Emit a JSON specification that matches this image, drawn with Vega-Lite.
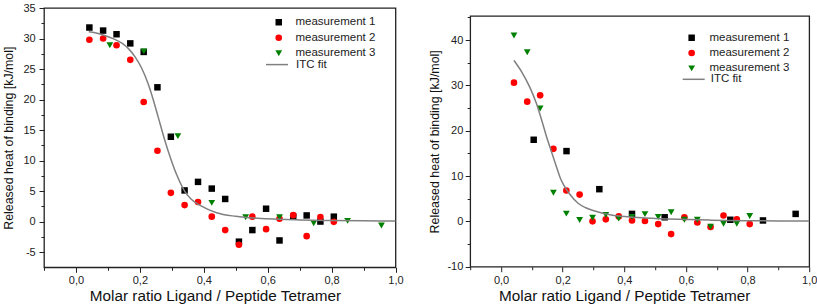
{
  "$schema": "https://vega.github.io/schema/vega-lite/v6.json",
  "padding": {"left": 2, "top": 1, "right": 0, "bottom": 0},
  "spacing": 23.2,
  "background": "white",
  "config": {
    "font": "Liberation Sans",
    "view": {"stroke": "#222", "strokeWidth": 1.3},
    "axis": {"grid": false, "domain": false, "labelFontSize": 11, "labelColor": "#222", "tickColor": "#222", "tickWidth": 1, "titleFontWeight": "normal", "titleColor": "#111", "labelOverlap": false, "labelFlush": false},
    "legend": {"labelFont": "Liberation Sans"}
  },
  "resolve": {
    "scale": {"color": "independent", "shape": "independent", "stroke": "independent", "size": "independent"},
    "legend": {"color": "independent", "shape": "independent", "stroke": "independent"}
  },
  "hconcat": [
    {
      "width": 351.5,
      "height": 259.3,
      "resolve": {"axis": {"x": "independent", "y": "independent"}},
      "layer": [
        {
          "data": {"values": [
            {"series": "measurement 1", "x": 0.042, "y": 31.8},
            {"series": "measurement 1", "x": 0.085, "y": 31.3},
            {"series": "measurement 1", "x": 0.127, "y": 30.7},
            {"series": "measurement 1", "x": 0.17, "y": 29.2},
            {"series": "measurement 1", "x": 0.212, "y": 27.8},
            {"series": "measurement 1", "x": 0.255, "y": 22.0},
            {"series": "measurement 1", "x": 0.297, "y": 13.9},
            {"series": "measurement 1", "x": 0.34, "y": 5.1},
            {"series": "measurement 1", "x": 0.382, "y": 6.5},
            {"series": "measurement 1", "x": 0.425, "y": 5.4},
            {"series": "measurement 1", "x": 0.467, "y": 3.7},
            {"series": "measurement 1", "x": 0.51, "y": -3.3},
            {"series": "measurement 1", "x": 0.552, "y": -1.4},
            {"series": "measurement 1", "x": 0.595, "y": 2.1},
            {"series": "measurement 1", "x": 0.637, "y": -3.1},
            {"series": "measurement 1", "x": 0.68, "y": 0.8},
            {"series": "measurement 1", "x": 0.722, "y": 1.0},
            {"series": "measurement 1", "x": 0.765, "y": 0.0},
            {"series": "measurement 1", "x": 0.807, "y": 0.8},
            {"series": "measurement 2", "x": 0.042, "y": 29.8},
            {"series": "measurement 2", "x": 0.085, "y": 30.0},
            {"series": "measurement 2", "x": 0.127, "y": 28.9},
            {"series": "measurement 2", "x": 0.17, "y": 26.5},
            {"series": "measurement 2", "x": 0.212, "y": 19.6},
            {"series": "measurement 2", "x": 0.255, "y": 11.6},
            {"series": "measurement 2", "x": 0.297, "y": 4.7},
            {"series": "measurement 2", "x": 0.34, "y": 2.7},
            {"series": "measurement 2", "x": 0.382, "y": 3.2},
            {"series": "measurement 2", "x": 0.425, "y": 0.8},
            {"series": "measurement 2", "x": 0.467, "y": -1.4},
            {"series": "measurement 2", "x": 0.51, "y": -3.8},
            {"series": "measurement 2", "x": 0.552, "y": 0.8},
            {"series": "measurement 2", "x": 0.595, "y": -1.25},
            {"series": "measurement 2", "x": 0.637, "y": 0.45},
            {"series": "measurement 2", "x": 0.68, "y": 1.05},
            {"series": "measurement 2", "x": 0.722, "y": -2.4},
            {"series": "measurement 2", "x": 0.765, "y": 0.75},
            {"series": "measurement 2", "x": 0.807, "y": -0.05},
            {"series": "measurement 3", "x": 0.106, "y": 28.9},
            {"series": "measurement 3", "x": 0.2125, "y": 27.9},
            {"series": "measurement 3", "x": 0.319, "y": 14.0},
            {"series": "measurement 3", "x": 0.425, "y": 3.05},
            {"series": "measurement 3", "x": 0.531, "y": 0.7},
            {"series": "measurement 3", "x": 0.637, "y": 0.7},
            {"series": "measurement 3", "x": 0.744, "y": -0.27},
            {"series": "measurement 3", "x": 0.85, "y": 0.1},
            {"series": "measurement 3", "x": 0.956, "y": -0.65}
          ]},
          "mark": {"type": "point", "filled": true, "opacity": 1},
          "encoding": {
            "x": {"field": "x", "type": "quantitative", "scale": {"domain": [-0.1, 1.0], "nice": false, "zero": false},
              "axis": {"values": [0, 0.2, 0.4, 0.6, 0.8, 1.0], "labelExpr": "replace(format(datum.value,'.1f'),'.',',')", "title": "Molar ratio Ligand / Peptide Tetramer", "titleFontSize": 15.3, "titleX": 171, "titlePadding": 3, "tickSize": 5, "labelPadding": 2.5}},
            "y": {"field": "y", "type": "quantitative", "scale": {"domain": [-7.5, 35], "nice": false, "zero": false},
              "axis": {"values": [-5, 0, 5, 10, 15, 20, 25, 30, 35], "labelExpr": "'' + datum.value", "title": "Released heat of binding [kJ/mol]", "titleFontSize": 12.4, "titlePadding": 7, "tickSize": 5, "labelPadding": 3.8}},
            "size": {"field": "series", "type": "ordinal", "scale": {"domain": ["measurement 1", "measurement 2", "measurement 3"], "range": [42, 46, 58]}, "legend": null},
            "color": {"field": "series", "type": "nominal", "scale": {"domain": ["measurement 1", "measurement 2", "measurement 3"], "range": ["#000000", "#ff0000", "#008000"]},
              "legend": {"orient": "none", "legendX": 229, "legendY": 8.5, "title": null, "labelFontSize": 11.5, "labelColor": "#222", "symbolSize": 28, "rowPadding": 2.5, "labelOffset": 11, "padding": 0, "symbolStrokeWidth": 0}},
            "shape": {"field": "series", "type": "nominal", "scale": {"domain": ["measurement 1", "measurement 2", "measurement 3"], "range": ["square", "circle", "triangle-down"]},
              "legend": {"orient": "none", "legendX": 229, "legendY": 8.5, "title": null, "labelFontSize": 11.5, "labelColor": "#222", "symbolSize": 28, "rowPadding": 2.5, "labelOffset": 11, "padding": 0, "symbolStrokeWidth": 0}}
          }
        },
        {
          "data": {"values": [
            {"x": 0.04, "y": 31.1}, {"x": 0.06, "y": 30.95}, {"x": 0.09, "y": 30.5}, {"x": 0.12, "y": 29.9},
            {"x": 0.145, "y": 29.2}, {"x": 0.165, "y": 28.3}, {"x": 0.185, "y": 27.0}, {"x": 0.205, "y": 25.2},
            {"x": 0.225, "y": 22.7}, {"x": 0.24, "y": 20.3}, {"x": 0.257, "y": 17.2}, {"x": 0.277, "y": 13.5},
            {"x": 0.298, "y": 10.1}, {"x": 0.315, "y": 7.7}, {"x": 0.34, "y": 5.0}, {"x": 0.36, "y": 3.7},
            {"x": 0.39, "y": 2.6}, {"x": 0.44, "y": 1.45}, {"x": 0.5, "y": 0.85}, {"x": 0.6, "y": 0.45},
            {"x": 0.7, "y": 0.27}, {"x": 0.8, "y": 0.17}, {"x": 0.9, "y": 0.12}, {"x": 1.0, "y": 0.1}
          ]},
          "mark": {"type": "line", "strokeWidth": 1.5, "interpolate": "monotone"},
          "encoding": {
            "x": {"field": "x", "type": "quantitative", "axis": null},
            "y": {"field": "y", "type": "quantitative", "axis": null},
            "stroke": {"datum": "ITC fit", "type": "nominal", "scale": {"domain": ["ITC fit"], "range": ["#808080"]},
              "legend": {"orient": "none", "legendX": 221, "legendY": 44.6, "title": null, "labelFontSize": 11.5, "labelColor": "#222", "symbolSize": 484, "symbolStrokeWidth": 1.5, "labelOffset": 7, "padding": 0}}
          }
        },
        {
          "data": {"values": [{"x": 0.5, "y": 0}]},
          "mark": {"type": "point", "opacity": 0},
          "encoding": {
            "x": {"field": "x", "type": "quantitative", "axis": {"orient": "bottom", "values": [-0.1, 0.1, 0.3, 0.5, 0.7, 0.9], "labels": false, "title": null, "tickSize": 3}},
            "y": {"field": "y", "type": "quantitative", "axis": {"orient": "left", "values": [-2.5, 2.5, 7.5, 12.5, 17.5, 22.5, 27.5, 32.5], "labels": false, "title": null, "tickSize": 3}}
          }
        }
      ]
    },
    {
      "spacing": 0,
      "resolve": {
        "scale": {"color": "independent", "shape": "independent", "stroke": "independent", "size": "independent"},
        "legend": {"color": "independent", "shape": "independent", "stroke": "independent"}
      },
      "vconcat": [
        {
          "width": 339,
          "height": 6.8,
          "view": {"stroke": null},
          "data": {"values": [{"x": 0}]},
          "mark": {"type": "point", "opacity": 0},
          "encoding": {}
        },
        {
          "width": 339,
          "height": 250.7,
          "resolve": {"axis": {"x": "independent", "y": "independent"}},
          "layer": [
            {
              "data": {"values": [
                {"series": "measurement 1", "x": 0.106, "y": 18.0},
                {"series": "measurement 1", "x": 0.2125, "y": 15.5},
                {"series": "measurement 1", "x": 0.319, "y": 7.1},
                {"series": "measurement 1", "x": 0.425, "y": 1.65},
                {"series": "measurement 1", "x": 0.531, "y": 0.9},
                {"series": "measurement 1", "x": 0.744, "y": 0.35},
                {"series": "measurement 1", "x": 0.85, "y": 0.2},
                {"series": "measurement 1", "x": 0.956, "y": 1.65},
                {"series": "measurement 2", "x": 0.042, "y": 30.6},
                {"series": "measurement 2", "x": 0.085, "y": 26.4},
                {"series": "measurement 2", "x": 0.127, "y": 27.8},
                {"series": "measurement 2", "x": 0.17, "y": 16.0},
                {"series": "measurement 2", "x": 0.212, "y": 6.8},
                {"series": "measurement 2", "x": 0.255, "y": 5.9},
                {"series": "measurement 2", "x": 0.297, "y": 0.0},
                {"series": "measurement 2", "x": 0.34, "y": 0.44},
                {"series": "measurement 2", "x": 0.382, "y": 1.1},
                {"series": "measurement 2", "x": 0.425, "y": 0.2},
                {"series": "measurement 2", "x": 0.467, "y": 0.07},
                {"series": "measurement 2", "x": 0.51, "y": -0.6},
                {"series": "measurement 2", "x": 0.552, "y": -2.8},
                {"series": "measurement 2", "x": 0.595, "y": 0.88},
                {"series": "measurement 2", "x": 0.637, "y": -0.25},
                {"series": "measurement 2", "x": 0.68, "y": -1.25},
                {"series": "measurement 2", "x": 0.722, "y": 1.3},
                {"series": "measurement 2", "x": 0.765, "y": 0.47},
                {"series": "measurement 2", "x": 0.807, "y": -0.6},
                {"series": "measurement 3", "x": 0.042, "y": 41.0},
                {"series": "measurement 3", "x": 0.085, "y": 37.3},
                {"series": "measurement 3", "x": 0.127, "y": 24.9},
                {"series": "measurement 3", "x": 0.17, "y": 6.3},
                {"series": "measurement 3", "x": 0.212, "y": 1.7},
                {"series": "measurement 3", "x": 0.255, "y": 0.3},
                {"series": "measurement 3", "x": 0.297, "y": 0.8},
                {"series": "measurement 3", "x": 0.34, "y": 1.4},
                {"series": "measurement 3", "x": 0.382, "y": 0.6},
                {"series": "measurement 3", "x": 0.425, "y": 1.0},
                {"series": "measurement 3", "x": 0.467, "y": 1.6},
                {"series": "measurement 3", "x": 0.51, "y": 0.96},
                {"series": "measurement 3", "x": 0.552, "y": 2.0},
                {"series": "measurement 3", "x": 0.595, "y": 0.37},
                {"series": "measurement 3", "x": 0.637, "y": 0.37},
                {"series": "measurement 3", "x": 0.68, "y": -1.18},
                {"series": "measurement 3", "x": 0.722, "y": -0.52},
                {"series": "measurement 3", "x": 0.765, "y": -0.52},
                {"series": "measurement 3", "x": 0.807, "y": 1.18}
              ]},
              "mark": {"type": "point", "filled": true, "opacity": 1},
              "encoding": {
                "x": {"field": "x", "type": "quantitative", "scale": {"domain": [-0.1, 1.0], "nice": false, "zero": false},
                  "axis": {"values": [0, 0.2, 0.4, 0.6, 0.8, 1.0], "labelExpr": "replace(format(datum.value,'.1f'),'.',',')", "title": "Molar ratio Ligand / Peptide Tetramer", "titleFontSize": 15.3, "titleX": 154, "titlePadding": 3, "tickSize": 5, "labelPadding": 2.5}},
                "y": {"field": "y", "type": "quantitative", "scale": {"domain": [-10, 45.3], "nice": false, "zero": false},
                  "axis": {"values": [-10, 0, 10, 20, 30, 40], "labelExpr": "'' + datum.value", "title": "Released heat of binding [kJ/mol]", "titleFontSize": 12.4, "titlePadding": 5.8, "tickSize": 5, "labelPadding": 2.4}},
                "size": {"field": "series", "type": "ordinal", "scale": {"domain": ["measurement 1", "measurement 2", "measurement 3"], "range": [42, 46, 58]}, "legend": null},
                "color": {"field": "series", "type": "nominal", "scale": {"domain": ["measurement 1", "measurement 2", "measurement 3"], "range": ["#000000", "#ff0000", "#008000"]},
                  "legend": {"orient": "none", "legendX": 215.7, "legendY": 16, "title": null, "labelFontSize": 11.5, "labelColor": "#222", "symbolSize": 28, "rowPadding": 2.3, "labelOffset": 12, "padding": 0, "symbolStrokeWidth": 0}},
                "shape": {"field": "series", "type": "nominal", "scale": {"domain": ["measurement 1", "measurement 2", "measurement 3"], "range": ["square", "circle", "triangle-down"]},
                  "legend": {"orient": "none", "legendX": 215.7, "legendY": 16, "title": null, "labelFontSize": 11.5, "labelColor": "#222", "symbolSize": 28, "rowPadding": 2.3, "labelOffset": 12, "padding": 0, "symbolStrokeWidth": 0}}
              }
            },
            {
              "data": {"values": [
                {"x": 0.042, "y": 35.5}, {"x": 0.067, "y": 33.0}, {"x": 0.094, "y": 29.5}, {"x": 0.115, "y": 26.0},
                {"x": 0.132, "y": 22.3}, {"x": 0.148, "y": 18.6}, {"x": 0.164, "y": 15.3}, {"x": 0.18, "y": 12.0},
                {"x": 0.194, "y": 9.3}, {"x": 0.207, "y": 7.6}, {"x": 0.225, "y": 5.8}, {"x": 0.25, "y": 4.0},
                {"x": 0.275, "y": 3.0}, {"x": 0.304, "y": 2.3}, {"x": 0.358, "y": 1.4}, {"x": 0.41, "y": 1.0},
                {"x": 0.466, "y": 0.75}, {"x": 0.574, "y": 0.44}, {"x": 0.68, "y": 0.27}, {"x": 0.79, "y": 0.16},
                {"x": 0.9, "y": 0.1}, {"x": 1.0, "y": 0.07}
              ]},
              "mark": {"type": "line", "strokeWidth": 1.5, "interpolate": "monotone"},
              "encoding": {
                "x": {"field": "x", "type": "quantitative", "axis": null},
                "y": {"field": "y", "type": "quantitative", "axis": null},
                "stroke": {"datum": "ITC fit", "type": "nominal", "scale": {"domain": ["ITC fit"], "range": ["#808080"]},
                  "legend": {"orient": "none", "legendX": 211.5, "legendY": 51.3, "title": null, "labelFontSize": 11.5, "labelColor": "#222", "symbolSize": 484, "symbolStrokeWidth": 1.5, "labelOffset": 5, "padding": 0}}
              }
            },
            {
              "data": {"values": [{"x": 0.5, "y": 0}]},
              "mark": {"type": "point", "opacity": 0},
              "encoding": {
                "x": {"field": "x", "type": "quantitative", "axis": {"orient": "bottom", "values": [-0.1, 0.1, 0.3, 0.5, 0.7, 0.9], "labels": false, "title": null, "tickSize": 3}},
                "y": {"field": "y", "type": "quantitative", "axis": {"orient": "left", "values": [-5, 5, 15, 25, 35, 45], "labels": false, "title": null, "tickSize": 3}}
              }
            }
          ]
        }
      ]
    }
  ]
}
